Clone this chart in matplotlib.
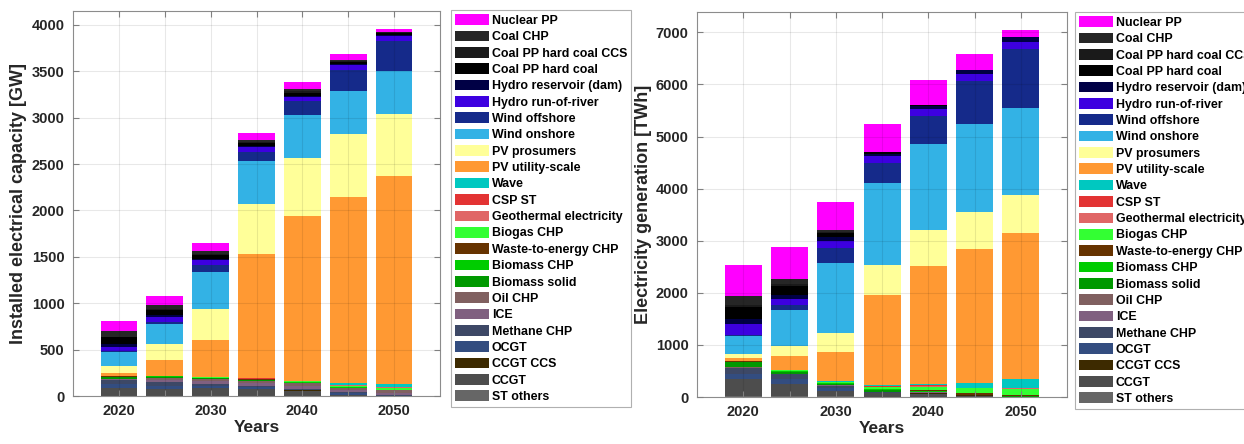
import matplotlib

matplotlib.use("Agg")
import matplotlib.pyplot as plt
import numpy as np

plt.rcParams["font.family"] = ["Liberation Sans", "DejaVu Sans"]
plt.rcParams["font.weight"] = "bold"

years = [2020, 2025, 2030, 2035, 2040, 2045, 2050]

# technologies from the bottom of the stack to the top
techs = [
    "ST others", "CCGT", "CCGT CCS", "OCGT", "Methane CHP", "ICE", "Oil CHP",
    "Biomass solid", "Biomass CHP", "Waste-to-energy CHP", "Biogas CHP",
    "Geothermal electricity", "CSP ST", "Wave", "PV utility-scale",
    "PV prosumers", "Wind onshore", "Wind offshore", "Hydro run-of-river",
    "Hydro reservoir (dam)", "Coal PP hard coal", "Coal PP hard coal CCS",
    "Coal CHP", "Nuclear PP",
]
colors = [
    "#666666", "#4d4d4d", "#3d2a00", "#334d80", "#3d4866", "#806080", "#806060",
    "#009900", "#00cc00", "#663300", "#33ff33",
    "#e06666", "#e33333", "#00c8c0", "#ff9933",
    "#ffff99", "#33b2e5", "#152a8a", "#3d00e0",
    "#000045", "#000000", "#1a1a1a",
    "#262626", "#ff00ff",
]

# installed capacity [GW], one row per technology, one column per year
capacity = [
    [5, 5, 5, 5, 5, 3, 0],                    # ST others
    [80, 68, 78, 70, 50, 5, 0],               # CCGT
    [0, 0, 0, 0, 10, 5, 0],                   # CCGT CCS
    [40, 40, 25, 18, 5, 20, 3],               # OCGT
    [50, 42, 25, 18, 5, 5, 3],                # Methane CHP
    [5, 20, 25, 27, 32, 25, 28],              # ICE
    [5, 20, 25, 27, 32, 22, 27],              # Oil CHP
    [15, 10, 7, 5, 6, 3, 2],                  # Biomass solid
    [8, 6, 5, 5, 5, 4, 3],                    # Biomass CHP
    [3, 2, 2, 3, 3, 3, 3],                    # Waste-to-energy CHP
    [5, 4, 3, 8, 8, 18, 22],                  # Biogas CHP
    [2, 2, 2, 2, 2, 2, 2],                    # Geothermal electricity
    [1, 1, 1, 1, 1, 1, 1],                    # CSP ST
    [0, 0, 0, 1, 1, 20, 39],                  # Wave
    [30, 168, 400, 1336, 1770, 2011, 2241],   # PV utility-scale
    [75, 175, 330, 542, 632, 672, 661],       # PV prosumers
    [150, 212, 400, 460, 467, 474, 473],      # Wind onshore
    [10, 18, 82, 104, 150, 226, 324],         # Wind offshore
    [47, 58, 50, 50, 44, 47, 44],             # Hydro run-of-river
    [25, 24, 15, 15, 10, 10, 10],             # Hydro reservoir (dam)
    [75, 55, 45, 30, 30, 25, 25],             # Coal PP hard coal
    [10, 13, 10, 10, 15, 10, 10],             # Coal PP hard coal CCS
    [55, 43, 25, 24, 23, 16, 8],              # Coal CHP
    [115, 93, 93, 79, 83, 57, 28],            # Nuclear PP
]

# electricity generation [TWh]
generation = [
    [10, 10, 10, 5, 5, 5, 0],                    # ST others
    [329, 247, 100, 70, 60, 15, 0],              # CCGT
    [0, 0, 0, 0, 10, 10, 5],                     # CCGT CCS
    [100, 90, 60, 10, 5, 5, 0],                  # OCGT
    [111, 89, 50, 10, 5, 5, 0],                  # Methane CHP
    [5, 5, 3, 2, 2, 2, 2],                       # ICE
    [15, 10, 5, 3, 3, 2, 2],                     # Oil CHP
    [95, 30, 20, 25, 15, 2, 2],                  # Biomass solid
    [12, 15, 12, 20, 10, 0, 2],                  # Biomass CHP
    [8, 10, 10, 10, 15, 30, 20],                 # Waste-to-energy CHP
    [8, 10, 18, 40, 70, 96, 130],                # Biogas CHP
    [5, 5, 5, 5, 20, 3, 2],                      # Geothermal electricity
    [2, 4, 3, 3, 5, 2, 2],                       # CSP ST
    [0, 0, 2, 25, 30, 100, 170],                 # Wave
    [43, 256, 557, 1723, 2268, 2562, 2818],      # PV utility-scale
    [90, 192, 372, 583, 678, 717, 724],          # PV prosumers
    [333, 691, 1345, 1569, 1646, 1678, 1665],    # Wind onshore
    [32, 96, 288, 391, 545, 833, 1140],          # Wind offshore
    [199, 129, 128, 128, 141, 134, 134],         # Hydro run-of-river
    [108, 77, 83, 50, 44, 77, 84],               # Hydro reservoir (dam)
    [222, 170, 77, 30, 20, 0, 0],                # Coal PP hard coal
    [40, 28, 10, 3, 0, 0, 0],                    # Coal PP hard coal CCS
    [173, 109, 45, 0, 0, 0, 0],                  # Coal CHP
    [585, 608, 540, 531, 493, 301, 147],         # Nuclear PP
]


def stacked_bars(ax, fig, values, ylabel, ylim, yticks, legend_xy):
    values = np.array(values, dtype=float)
    bottom = np.zeros(len(years))
    handles = []
    for name, col, row in zip(techs, colors, values):
        h = ax.bar(years, row, width=4, bottom=bottom, color=col,
                   linewidth=0, label=name)
        handles.append(h)
        bottom += row

    ax.set_xlim(2015, 2055)
    ax.set_ylim(*ylim)
    ax.set_xticks(years)
    ax.set_xticklabels([str(y) if y % 10 == 0 else "" for y in years])
    ax.set_yticks(yticks)
    ax.tick_params(direction="in", length=4, color="#808080", labelsize=10.5,
                   top=True, right=True, pad=6)
    for lbl in ax.get_xticklabels() + ax.get_yticklabels():
        lbl.set_fontweight("bold")
        lbl.set_color("#262626")
    for sp in ax.spines.values():
        sp.set_color("#8c8c8c")
    ax.set_axisbelow(False)
    ax.grid(True, color="black", alpha=0.09, linewidth=0.8)
    ax.set_xlabel("Years", fontsize=12.5, fontweight="bold", color="#262626",
                  labelpad=1)
    ax.set_ylabel(ylabel, fontsize=13, fontweight="bold", color="#262626",
                  labelpad=3)

    leg = fig.legend(handles[::-1], techs[::-1], loc="upper left",
                     bbox_to_anchor=legend_xy, bbox_transform=fig.transFigure,
                     borderaxespad=0, fancybox=False, framealpha=1,
                     edgecolor="#b0b0b0", handlelength=2.7,
                     handleheight=0.95, handletextpad=0.25, labelspacing=0.305,
                     borderpad=0.35, prop={"weight": "bold", "size": 8.9})
    leg.get_frame().set_linewidth(0.8)
    return leg


def main():
    fig = plt.figure(figsize=(12.44, 4.44), dpi=100)
    ax0 = fig.add_axes([73 / 1244, 48 / 444, 367 / 1244, 385 / 444])
    ax1 = fig.add_axes([697 / 1244, 47 / 444, 370 / 1244, 385 / 444])

    stacked_bars(ax0, fig, capacity, "Installed electrical capacity [GW]",
                 (0, 4150), range(0, 4001, 500), (451 / 1244, 1 - 10 / 444))
    stacked_bars(ax1, fig, generation, "Electricity generation [TWh]",
                 (0, 7390), range(0, 7001, 1000), (1075 / 1244, 1 - 12 / 444))

    fig.savefig("out.png", dpi=100)


if __name__ == "__main__":
    main()
